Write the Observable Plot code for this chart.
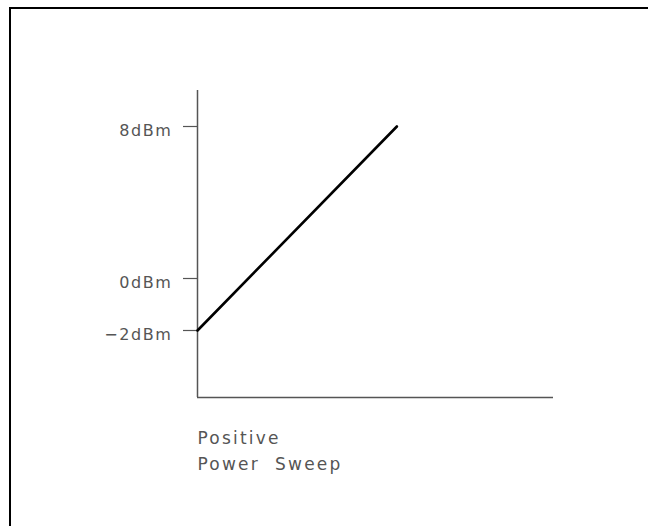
<!DOCTYPE html>
<html>
<head>
<meta charset="utf-8">
<script src="https://cdn.jsdelivr.net/npm/d3@7"></script>
<script src="https://cdn.jsdelivr.net/npm/@observablehq/plot@0.6"></script>
<style>
  html, body { margin: 0; padding: 0; background: #fff; overflow: hidden; width: 648px; height: 526px; }
  #wrap { position: relative; width: 648px; height: 526px; overflow: hidden; }
  #wrap > svg { position: absolute; left: 0; top: 0; }
  #border { position: absolute; left: 9px; top: 7px; right: 0; bottom: 0;
            border-left: 2px solid #000; border-top: 2px solid #000; pointer-events: none; }
  svg g[aria-label="y-axis tick label"] text { letter-spacing: 1.6px; }
  svg g[aria-label="text"] text { letter-spacing: 2.2px; }
</style>
</head>
<body>
<div id="wrap"><div id="border"></div></div>
<script>
// Data
const sweepX = [0, 56];          // sweep progress (%)
const powerDbm = [-2, 8];        // output power (dBm)
const yTicks = [-2, 0, 8];       // tick values (dBm)
const yDomain = [-4.5, -2, 0, 8, 10]; // schematic (piecewise) power axis
const xDomain = [0, 100];
const captionLines = ["Positive", "Power\u00a0 Sweep"];

const W = 648, H = 526;
const mL = 197, mR = 95, mT = 90, mB = 129;
// schematic, non-uniform vertical axis: pixel positions of the domain breakpoints
const yRange = [H - mB, 330, 278, 126, mT];

const data = sweepX.map((x, i) => ({x, p: powerDbm[i]}));
const fmt = d => (d < 0 ? "\u2212" : "") + Math.abs(d) + "dBm";

const chart = Plot.plot({
  width: W,
  height: H,
  marginLeft: mL,
  marginRight: mR,
  marginTop: mT,
  marginBottom: mB,
  style: {fontFamily: "DejaVu Sans", background: "transparent", color: "#555"},
  x: {type: "linear", domain: xDomain, axis: null},
  y: {type: "linear", domain: yDomain, range: yRange, axis: null, label: null},
  marks: [
    Plot.ruleX([xDomain[0]], {y1: yDomain[0], y2: yDomain[yDomain.length - 1], stroke: "#555", strokeWidth: 1.5}),
    Plot.ruleY([yDomain[0]], {x1: xDomain[0], x2: xDomain[1], stroke: "#555", strokeWidth: 1.5}),
    Plot.axisY({ticks: yTicks, tickSize: 14, tickFormat: () => "", label: null, stroke: "#555", strokeWidth: 1.2}),
    Plot.axisY({ticks: yTicks, tickSize: 0, tickPadding: 25, tickFormat: fmt, label: null, dy: 4,
                fontSize: 16, fill: "#555"}),
    Plot.line(data, {x: "x", y: "p", stroke: "#000", strokeWidth: 2.6}),
    Plot.text([captionLines.join("\n")], {
      frameAnchor: "bottom-left", textAnchor: "start", lineAnchor: "top",
      dy: 28, lineHeight: 26 / 17, fontSize: 17, fill: "#555"
    })
  ]
});
document.getElementById("wrap").prepend(chart);
</script>
</body>
</html>
